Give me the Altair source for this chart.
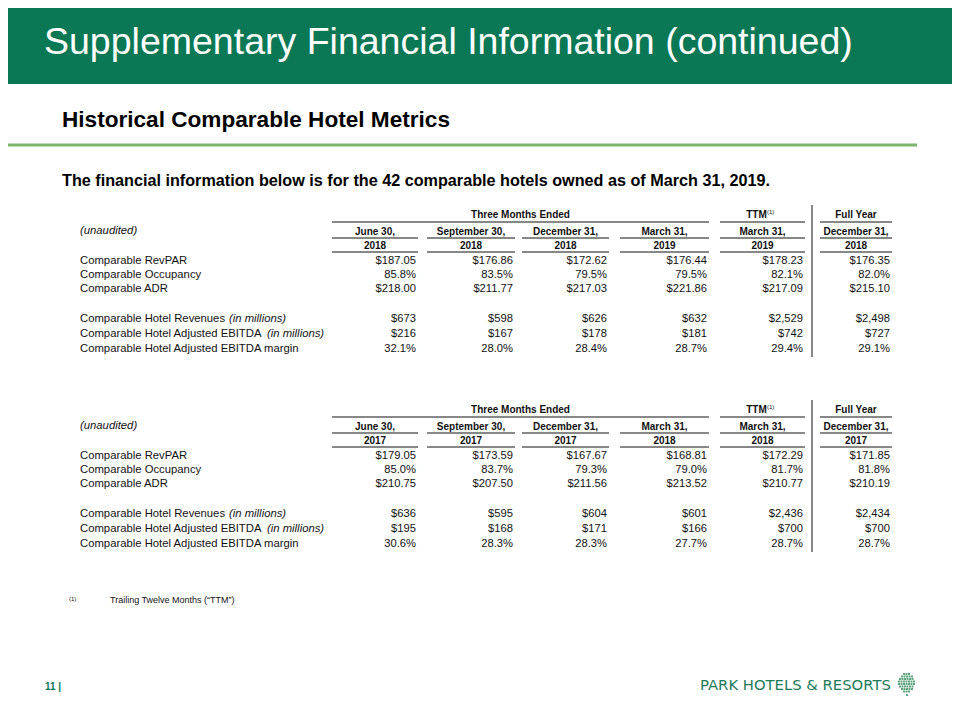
import altair as alt
import pandas as pd

# ---------------- data ----------------
title = "Supplementary Financial Information (continued)"
subtitle = "Historical Comparable Hotel Metrics"
intro = "The financial information below is for the 42 comparable hotels owned as of March 31, 2019."
footnote_mark = "(1)"
footnote_text = "Trailing Twelve Months (\u201cTTM\u201d)"
page_number = "11 |"
brand = "PARK HOTELS & RESORTS"
unaudited = "(unaudited)"

group_headers = ["Three Months Ended", "TTM", "Full Year"]
period_months = ["June 30,", "September 30,", "December 31,", "March 31,", "March 31,", "December 31,"]
years_a = ["2018", "2018", "2018", "2019", "2019", "2018"]
years_b = ["2017", "2017", "2017", "2018", "2018", "2017"]

metric_names = ["Comparable RevPAR", "Comparable Occupancy", "Comparable ADR",
                "Comparable Hotel Revenues", "Comparable Hotel Adjusted EBITDA",
                "Comparable Hotel Adjusted EBITDA margin"]
metric_notes = ["", "", "", "(in millions)", "(in millions)", ""]

# table A (2018/2019)
revpar_a = [187.05, 176.86, 172.62, 176.44, 178.23, 176.35]
occupancy_a = [85.8, 83.5, 79.5, 79.5, 82.1, 82.0]
adr_a = [218.00, 211.77, 217.03, 221.86, 217.09, 215.10]
revenues_a = [673, 598, 626, 632, 2529, 2498]
ebitda_a = [216, 167, 178, 181, 742, 727]
margin_a = [32.1, 28.0, 28.4, 28.7, 29.4, 29.1]

# table B (2017/2018)
revpar_b = [179.05, 173.59, 167.67, 168.81, 172.29, 171.85]
occupancy_b = [85.0, 83.7, 79.3, 79.0, 81.7, 81.8]
adr_b = [210.75, 207.50, 211.56, 213.52, 210.77, 210.19]
revenues_b = [636, 595, 604, 601, 2436, 2434]
ebitda_b = [195, 168, 171, 166, 700, 700]
margin_b = [30.6, 28.3, 28.3, 27.7, 28.7, 28.7]

# ---------------- layout ----------------
FONT = "Liberation Sans, Arial, Helvetica, sans-serif"
GREEN = "#0A7855"
INK = "#111111"
col_left = [332, 427, 522, 620, 720, 820]
col_right = [418, 515, 609, 709, 805, 892]
col_center = [(a + b) / 2 for a, b in zip(col_left, col_right)]
table_offsets = [0, 195]
row_y = [261, 275, 289, 319, 334, 349]
note_x = [None, None, None, 229, 267, None]

fmt = [
    lambda v: f"${v:,.2f}",
    lambda v: f"{v:.1f}%",
    lambda v: f"${v:,.2f}",
    lambda v: f"${v:,.0f}",
    lambda v: f"${v:,.0f}",
    lambda v: f"{v:.1f}%",
]

X = alt.Scale(domain=[8, 952], nice=False, zero=False)
Y = alt.Scale(domain=[8, 712], nice=False, zero=False, reverse=True)


def text_layer(rows, **kw):
    df = pd.DataFrame(rows, columns=["x", "y", "text"])
    return alt.Chart(df).mark_text(font=kw.pop("font", FONT), **kw).encode(
        x=alt.X("x:Q", scale=X, axis=None),
        y=alt.Y("y:Q", scale=Y, axis=None),
        text="text:N",
    )


def rule_layer(rows, color=INK, width=1):
    df = pd.DataFrame(rows, columns=["x", "x2", "y", "y2"])
    return alt.Chart(df).mark_rule(color=color, strokeWidth=width).encode(
        x=alt.X("x:Q", scale=X, axis=None), x2="x2:Q",
        y=alt.Y("y:Q", scale=Y, axis=None), y2="y2:Q",
    )


layers = []

# header band
band = pd.DataFrame({"x": [0], "x2": [960], "y": [0], "y2": [84]})
layers.append(alt.Chart(band).mark_rect(color=GREEN).encode(
    x=alt.X("x:Q", scale=X, axis=None), x2="x2:Q",
    y=alt.Y("y:Q", scale=Y, axis=None), y2="y2:Q"))
layers.append(text_layer([(44, 54, title)], align="left", baseline="alphabetic",
                         fontSize=37.5, color="white"))
layers.append(text_layer([(62, 127, subtitle)], align="left", baseline="alphabetic",
                         fontSize=22.6, fontWeight="bold", color="#000000"))
layers.append(rule_layer([(4, 917, 145, 145)], color="#7DB46C", width=3))
layers.append(text_layer([(62, 186, intro)], align="left", baseline="alphabetic",
                         fontSize=16.2, fontWeight="bold", color="#000000"))

tables = [
    (years_a, [revpar_a, occupancy_a, adr_a, revenues_a, ebitda_a, margin_a]),
    (years_b, [revpar_b, occupancy_b, adr_b, revenues_b, ebitda_b, margin_b]),
]

bold_center, values, labels, rules, small = [], [], [], [], []
italic_left = []
for off, (years, metrics) in zip(table_offsets, tables):
    # group headers
    bold_center.append(((col_left[0] + col_right[3]) / 2, 215 + off, group_headers[0]))
    bold_center.append((col_center[4] - 6, 215 + off, group_headers[1]))
    small.append((col_center[4] + 4.5, 212 + off, footnote_mark))
    bold_center.append((col_center[5], 215 + off, group_headers[2]))
    rules.append((col_left[0], col_right[3], 222 + off, 222 + off))
    rules.append((col_left[4], col_right[4], 222 + off, 222 + off))
    rules.append((col_left[5], col_right[5], 222 + off, 222 + off))
    rules.append((812, 812, 205 + off, 357 + off))
    italic_left.append((80, 231 + off, unaudited))
    for i in range(6):
        bold_center.append((col_center[i], 232 + off, period_months[i]))
        bold_center.append((col_center[i], 246 + off, years[i]))
        rules.append((col_left[i], col_right[i], 238 + off, 238 + off))
        rules.append((col_left[i], col_right[i], 252 + off, 252 + off))
    for r in range(6):
        labels.append((80, row_y[r] + off, metric_names[r]))
        if metric_notes[r]:
            italic_left.append((note_x[r], row_y[r] + off, metric_notes[r]))
        for i in range(6):
            values.append((col_right[i] - 2, row_y[r] + off, fmt[r](metrics[r][i])))

layers.append(rule_layer(rules))
layers.append(text_layer(bold_center, align="center", baseline="middle",
                         fontSize=10, fontWeight="bold", color=INK))
layers.append(text_layer(small, align="left", baseline="middle", fontSize=6, color=INK))
layers.append(text_layer(labels, align="left", baseline="middle", fontSize=11.3, color=INK))
layers.append(text_layer(italic_left, align="left", baseline="middle", fontSize=11.3,
                         fontStyle="italic", color=INK))
layers.append(text_layer(values, align="right", baseline="middle", fontSize=11.2, color=INK))

# footnote
layers.append(text_layer([(69, 599, footnote_mark)], align="left", baseline="middle",
                         fontSize=6, color=INK))
layers.append(text_layer([(110, 600, footnote_text)], align="left", baseline="middle",
                         fontSize=9, color=INK))

# page number and brand
layers.append(text_layer([(45, 687, page_number)], align="left", baseline="middle",
                         fontSize=10, fontWeight="bold", color=GREEN))
layers.append(text_layer([(700, 686, brand)], align="left", baseline="middle",
                         fontSize=14.8, font="DejaVu Sans", color="#1B7A57"))

# tree emblem (decorative grid of small squares)
tree = []
for j in range(8):
    yy = 674 + j * 2.5
    half = [3, 5, 7, 8, 8, 7, 5, 3][j]
    k = -half
    while k <= half:
        tree.append((907 + k, yy))
        k += 2.5
tree.append((907, 695))
tree_df = pd.DataFrame(tree, columns=["x", "y"])
layers.append(alt.Chart(tree_df).mark_square(size=4, color="#4E9A72", opacity=0.9).encode(
    x=alt.X("x:Q", scale=X, axis=None), y=alt.Y("y:Q", scale=Y, axis=None)))

chart = alt.layer(*layers).properties(
    width=944, height=704, padding=0, autosize=alt.AutoSizeParams(type="none")
).configure_view(strokeWidth=0)

chart.save("out.html", embed_options={"renderer": "svg", "actions": False})
